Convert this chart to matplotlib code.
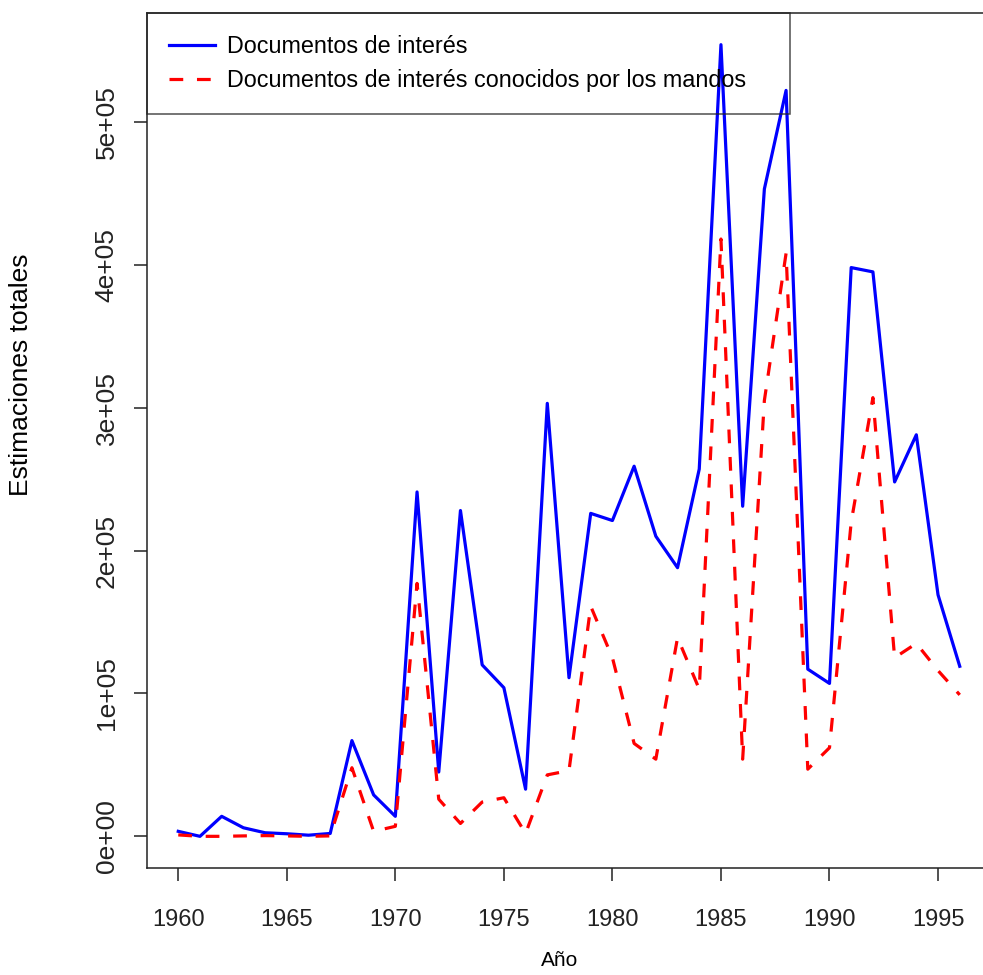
import matplotlib
matplotlib.use("Agg")
import matplotlib.pyplot as plt

plt.rcParams['font.family'] = ['Liberation Sans', 'DejaVu Sans']

# datos
anios = list(range(1960, 1997))
interes = [3500, 0, 14000, 6000, 2500, 1800, 800, 2000, 67000, 29000,
           14000, 241000, 45000, 228000, 120000, 104000, 33000, 303000, 111000, 226000,
           221000, 259000, 210000, 188000, 257000, 554000, 231000, 453000, 522000, 117000,
           107000, 398000, 395000, 248000, 281000, 169000, 119000]
conocidos = [1000, 0, 0, 300, 500, 300, 0, 300, 48000, 3500,
             7000, 177000, 26000, 9000, 24000, 27000, 2000, 43000, 46000, 161000,
             125000, 65000, 54000, 139000, 103000, 418000, 54000, 305000, 408000, 47000,
             62000, 220000, 307000, 125000, 135000, 116000, 99000]

xticks = [1960, 1965, 1970, 1975, 1980, 1985, 1990, 1995]
yticks = [0, 100000, 200000, 300000, 400000, 500000]
ylabels = ['0e+00', '1e+05', '2e+05', '3e+05', '4e+05', '5e+05']

fig = plt.figure(figsize=(9.83, 9.75), dpi=100)
ax = fig.add_axes([147 / 983, 1 - 868 / 975, 844 / 983, 855 / 975])

ax.plot(anios, interes, color='#0000FF', lw=2.3, label='Documentos de interés')
ax.plot(anios, conocidos, color='#FF0000', lw=2.3, dashes=(4.3, 4.3),
        label='Documentos de interés conocidos por los mandos')

ax.set_xlim(1958.56, 1997.44)
ax.set_ylim(-22160, 576160)

ax.set_xticks(xticks)
ax.set_xticklabels([str(t) for t in xticks], fontsize=17)
ax.set_yticks(yticks)
ax.set_yticklabels(ylabels, rotation=90, va='center', fontsize=19)

for s in ax.spines.values():
    s.set_linewidth(1.1)
    s.set_color('#222222')
ax.tick_params(axis='both', direction='out', length=9.5, width=1.1, colors='#222222')
ax.tick_params(axis='x', pad=20)
ax.tick_params(axis='y', pad=11)

ax.set_xlabel('Año', fontsize=15)
ax.xaxis.set_label_coords(0.489, -0.097)
ax.set_ylabel('Estimaciones totales', fontsize=19)
ax.yaxis.set_label_coords(-0.135, 0.577)

leg = ax.legend(loc='upper left', bbox_to_anchor=(0, 0.884, 0.762, 0.116), mode='expand',
                borderaxespad=0, fancybox=False, frameon=True, facecolor='none',
                edgecolor='#222222', prop={'size': 16.8},
                handlelength=1.97, handletextpad=0.5, borderpad=0.95, labelspacing=0.47)
leg.get_frame().set_linewidth(1.1)

fig.savefig('out.png', dpi=100)
